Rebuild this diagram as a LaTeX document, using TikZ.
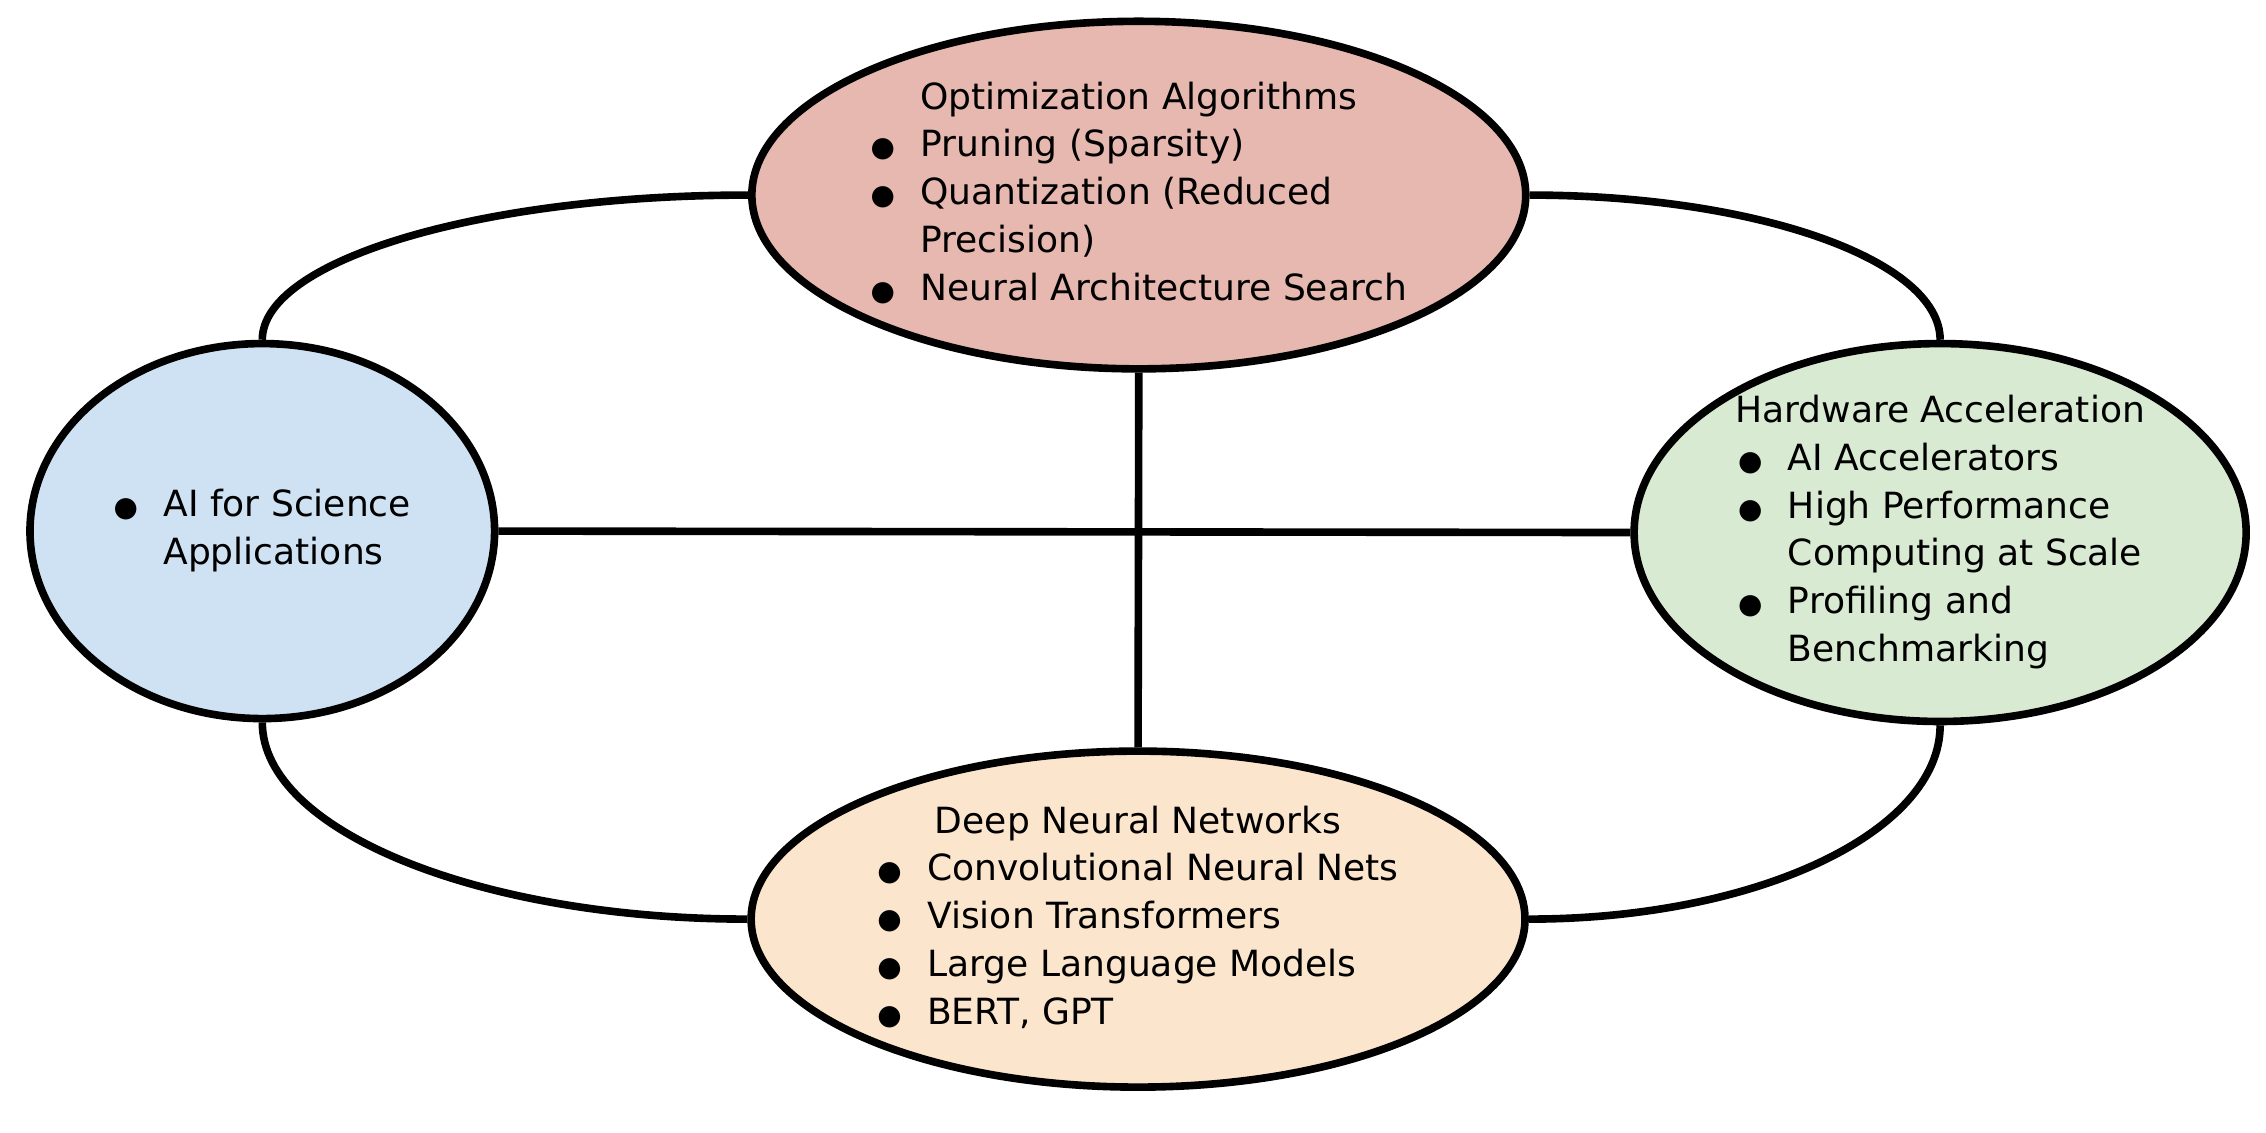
\documentclass[tikz,border=0pt]{standalone}
\usepackage{fontspec}
\setmainfont{DejaVu Sans}
\usepackage{xcolor}
\usetikzlibrary{shapes.geometric, arrows, positioning, calc}
\definecolor{optred}{HTML}{E6B8AF}
\definecolor{sciblue}{HTML}{CFE2F3}
\definecolor{hwgreen}{HTML}{D9EAD3}
\definecolor{dnnorange}{HTML}{FCE5CD}
\tikzstyle{bubble} = [ellipse, draw=black, line width=3pt, inner sep=0pt]
\tikzstyle{content} = [inner sep=0pt, font=\fontsize{14.2}{18.8}\selectfont]
\tikzstyle{link} = [line width=3pt]
\newcommand{\bul}{{\fontsize{11}{0}\selectfont ●}}

\begin{document}
\begin{tikzpicture}

    \useasboundingbox (0,0) rectangle (31.36,15.68);

    % Ellissi
    \node (optim) [bubble, fill=optred, minimum width=10.71cm, minimum height=4.81cm] at (15.76,12.98) {};
    \node (aisci) [bubble, fill=sciblue, minimum width=6.43cm, minimum height=5.19cm] at (3.63,8.33) {};
    \node (hwacc) [bubble, fill=hwgreen, minimum width=8.47cm, minimum height=5.23cm] at (26.85,8.31) {};
    \node (dnn) [bubble, fill=dnnorange, minimum width=10.71cm, minimum height=4.65cm] at (15.75,2.96) {};

    % Testi
    \node (optimtext) [content] at (optim) {\begin{tabular}{@{}c@{}}
        Optimization Algorithms\\
        \begin{tabular}[t]{@{}l@{\hspace{10pt}}l@{}}
        \bul & Pruning (Sparsity)\\
        \bul & Quantization (Reduced\\
             & Precision)\\
        \bul & Neural Architecture Search
        \end{tabular}
    \end{tabular}};
    \node (aiscitext) [content] at (aisci) {\begin{tabular}{@{}l@{\hspace{10pt}}l@{}}
        \bul & AI for Science\\
             & Applications
    \end{tabular}};
    \node (hwacctext) [content] at (hwacc) {\begin{tabular}{@{}c@{}}
        Hardware Acceleration\\
        \begin{tabular}[t]{@{}l@{\hspace{10pt}}l@{}}
        \bul & AI Accelerators\\
        \bul & High Performance\\
             & Computing at Scale\\
        \bul & Profiling and\\
             & Benchmarking
        \end{tabular}
    \end{tabular}};
    \node (dnntext) [content] at (dnn) {\begin{tabular}{@{}c@{}}
        Deep Neural Networks\\
        \begin{tabular}[t]{@{}l@{\hspace{10pt}}l@{}}
        \bul & Convolutional Neural Nets\\
        \bul & Vision Transformers\\
        \bul & Large Language Models\\
        \bul & BERT, GPT
        \end{tabular}
    \end{tabular}};

    % Collegamenti
    \draw [link] (optim.west) to[out=180, in=90, out distance=3.7cm, in distance=1.1cm] (aisci.north);
    \draw [link] (optim.east) to[out=0, in=90, out distance=3.15cm, in distance=1.1cm] (hwacc.north);
    \draw [link] (aisci.south) to[out=-90, in=180, out distance=1.5cm, in distance=3.7cm] (dnn.west);
    \draw [link] (hwacc.south) to[out=-90, in=0, out distance=1.48cm, in distance=3.15cm] (dnn.east);
    \draw [link] (optim.south) -- (dnn.north);
    \draw [link] (aisci.east) -- (hwacc.west);

\end{tikzpicture}
\end{document}
